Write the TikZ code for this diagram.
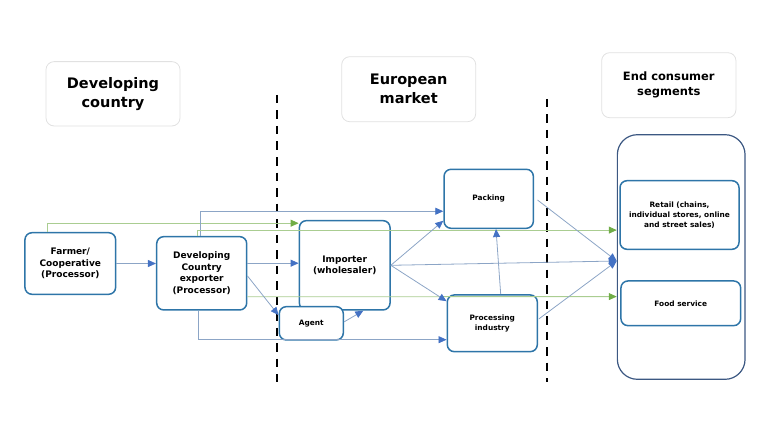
\documentclass[tikz,border=0pt]{standalone}
\usepackage{fontspec}
\setmainfont{DejaVu Sans}
\usetikzlibrary{arrows.meta,calc}
\definecolor{nodeblue}{RGB}{46,117,168}
\definecolor{bigblue}{RGB}{60,88,130}
\definecolor{linegray}{RGB}{140,165,198}
\definecolor{arrowblue}{RGB}{68,114,196}
\definecolor{lgreen}{RGB}{170,205,145}
\definecolor{agreen}{RGB}{112,173,71}
\definecolor{hdrgray}{RGB}{225,225,225}
\begin{document}
\begin{tikzpicture}[x=1pt,y=-1pt,
  nbox/.style={draw=nodeblue,line width=1.5pt,rounded corners=7pt,fill=white,
    inner sep=0pt,align=center,font=\bfseries\fontsize{9}{11.7}\selectfont},
  sbox/.style={nbox,font=\bfseries\fontsize{7.4}{10}\selectfont},
  hdr/.style={draw=hdrgray,line width=0.8pt,rounded corners=8pt,inner sep=0pt,
    align=center,font=\bfseries\fontsize{14.5}{19}\selectfont},
  conn/.style={draw=linegray,line width=0.8pt,-{Triangle[length=8pt,width=7pt,color=arrowblue]}},
  gconn/.style={draw=lgreen,line width=0.8pt,-{Triangle[length=8pt,width=7pt,color=agreen]}},
  divider/.style={line width=2pt,dash pattern=on 8.5pt off 7pt}]
\useasboundingbox (0,0) rectangle (768,433);
% headers
\node[hdr,minimum width=134pt,minimum height=64.3pt] (hdev) at (113,93.8) {Developing\\country};
\node[hdr,minimum width=134pt,minimum height=65pt] (heu) at (408.7,89.2) {European\\market};
\node[hdr,minimum width=134.3pt,minimum height=65pt,font=\bfseries\fontsize{11.5}{15}\selectfont] (hend) at (668.8,85.2) {End consumer\\segments};
% dividers
\coordinate (d1t) at (276.5,95);
\coordinate (d1b) at (276.5,382);
\coordinate (d2t) at (546.7,99);
\coordinate (d2b) at (546.7,382);
\draw[divider] (d1t) -- (d1b);
\draw[divider] (d2t) -- (d2b);
% end consumer container
\node[draw=bigblue,line width=1.2pt,rounded corners=20pt,minimum width=127.7pt,minimum height=244.6pt,inner sep=0pt] (big) at (681.2,257) {};
% nodes
\node[nbox,minimum width=90.7pt,minimum height=61.6pt] (farmer) at (70.3,263.5) {Farmer/\\Cooperative\\(Processor)};
\node[nbox,minimum width=90pt,minimum height=73.3pt] (exp) at (201.7,273.3) {Developing\\Country\\exporter\\(Processor)};
\node[nbox,minimum width=90.7pt,minimum height=89.3pt] (imp) at (344.7,265.3) {Importer\\(wholesaler)};
\node[sbox,minimum width=64pt,minimum height=33.3pt] (agent) at (311.3,323.3) {Agent};
\node[sbox,minimum width=89.3pt,minimum height=59pt] (pack) at (488.7,198.8) {Packing};
\node[sbox,minimum width=90pt,minimum height=56.7pt] (proc) at (492.3,323.3) {Processing\\industry};
\node[sbox,minimum width=119pt,minimum height=68.6pt] (retail) at (679.5,215) {Retail (chains,\\individual stores, online\\and street sales)};
\node[sbox,minimum width=119.7pt,minimum height=44.7pt] (food) at (680.8,303.3) {Food service};
% connectors
\draw[conn] (farmer.east) -- (farmer.east -| exp.west);
\draw[gconn] ([xshift=22.7pt]farmer.north west) |- ([yshift=-3.3pt]imp.north west);
\draw[conn] ([xshift=44.3pt]exp.north west) |- ([yshift=-42.7pt]pack.north west);
\draw[gconn] ([xshift=41.8pt]exp.north west) |- ([yshift=-96pt]big.north west);
\draw[conn] ([yshift=-27.3pt]exp.north east) -- ([yshift=-27.3pt]exp.north east -| imp.west);
\draw[gconn] ([yshift=14pt]exp.south east) -- ([yshift=83.3pt]big.south west);
\draw[conn] ([yshift=-40pt]exp.north east) -- ([yshift=-9.3pt]agent.north west);
\draw[conn] ([xshift=42pt]exp.south west) |- ([yshift=12.7pt]proc.south west);
\draw[conn] ([yshift=-16pt]agent.north east) -- ([xshift=18.6pt]imp.south);
\draw[conn] (imp.east) -- ([yshift=8.3pt]pack.south west);
\draw[conn] (imp.east) -- ([yshift=-7pt]proc.north west);
\draw[conn] (imp.east) -- ([yshift=-4pt]big.west);
\draw[conn] ([xshift=8.4pt]proc.north) -- ([xshift=7.3pt]pack.south);
\draw[conn] ([xshift=3.4pt,yshift=-1.2pt]pack.east) -- ([yshift=-4pt]big.west);
\draw[conn] ([xshift=0.7pt,yshift=4.3pt]proc.east) -- ([yshift=-4pt]big.west);
\end{tikzpicture}
\end{document}
